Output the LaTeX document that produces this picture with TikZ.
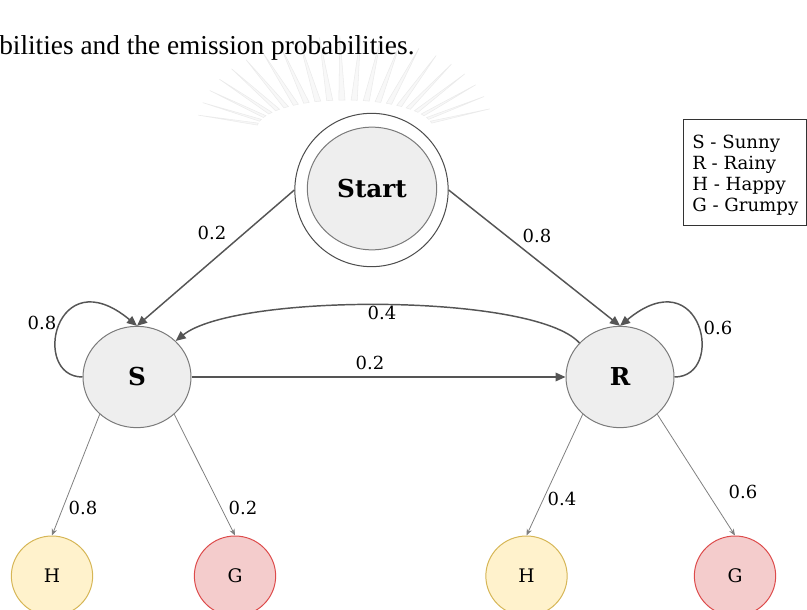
\documentclass[tikz,border=0pt]{standalone}
\usepackage{fontspec}
\setmainfont{DejaVu Serif}
\newfontfamily\bodyfont{Liberation Serif}
\usetikzlibrary{arrows.meta,shapes.geometric}

\definecolor{nodegray}{HTML}{EEEEEE}
\definecolor{nodeline}{HTML}{7A7A7A}
\definecolor{edgecol}{HTML}{555555}
\definecolor{emitcol}{HTML}{808080}
\definecolor{hfill}{HTML}{FFF2CC}
\definecolor{hline}{HTML}{D6B656}
\definecolor{gfill}{HTML}{F4CCCC}
\definecolor{gline}{HTML}{DD4B4B}
\definecolor{sealray}{HTML}{F8F8F8}
\definecolor{sealedge}{HTML}{EBEBEB}

\begin{document}
\begin{tikzpicture}[x=0.75pt,y=-0.75pt,
  state/.style={ellipse, draw=nodeline, fill=nodegray, line width=0.75pt,
    minimum width=81pt, minimum height=76pt, inner sep=0pt,
    font=\fontsize{18.5}{20}\selectfont\bfseries},
  obs/.style={ellipse, line width=0.75pt, minimum width=61pt, minimum height=60pt,
    inner sep=0pt, font=\fontsize{14}{16}\selectfont},
  obsH/.style={obs, draw=hline, fill=hfill},
  obsG/.style={obs, draw=gline, fill=gfill},
  trans/.style={draw=edgecol, line width=1.1pt, -{Triangle[length=7.5pt,width=6.5pt]}},
  emit/.style={draw=emitcol, line width=0.6pt, -{Stealth[length=5pt,width=4pt]}},
  prob/.style={font=\fontsize{13.5}{15}\selectfont, inner sep=0pt},
  legendline/.style={font=\fontsize{13.6}{15}\selectfont, inner sep=0pt, anchor=base west}
]
\useasboundingbox (0,0) rectangle (807,610);

% faint seal in the page background
\foreach \a in {12,20,...,172} {
  \fill[sealray, draw=sealedge, line width=0.4pt]
    ({345+88*cos(\a-2)},{128-28*sin(\a-2)}) --
    ({345+148*cos(\a)},{128-92*sin(\a)}) --
    ({345+88*cos(\a+2)},{128-28*sin(\a+2)}) -- cycle;
}

% running text of the page
\node[anchor=base west, inner sep=0pt, font=\bodyfont\fontsize{20.5}{24}\selectfont]
  (caption) at (-1,55) {bilities and the emission probabilities.};

% start state
\node[circle, draw=black!70, fill=white, line width=0.75pt, minimum size=115pt,
  inner sep=0pt] (startring) at (371.5,190) {};
\node[state, minimum width=97pt, minimum height=92pt] (start) at (372,188.5) {Start};

% hidden states
\node[state] (S) at (137,377) {S};
\node[state] (R) at (620,377) {R};

% observations
\node[obsH] (H1) at (52,576) {H};
\node[obsG] (G1) at (235,576) {G};
\node[obsH] (H2) at (526.5,576) {H};
\node[obsG] (G2) at (735,576) {G};

% initial probabilities
\draw[trans] (startring.west) -- (S.north);
\draw[trans] (startring.east) -- (R.north);
\node[prob] (pS) at (212,233) {0.2};
\node[prob] (pR) at (537,236) {0.8};

% transitions
\draw[trans] (S.east) -- (R.west);
\node[prob] (pSR) at (370,363) {0.2};
\draw[trans] (R.140) .. controls +(-45,-50) and +(60,-48) .. (S.43);
\node[prob] (pRS) at (382,313) {0.4};
\draw[trans] (S.west) .. controls +(-52,0) and +(-82,-68) .. (S.north);
\node[prob] (pSS) at (42,323) {0.8};
\draw[trans] (R.east) .. controls +(52,0) and +(82,-68) .. (R.north);
\node[prob] (pRR) at (718,328) {0.6};

% emissions
\draw[emit] (S.225) -- (H1.north);
\draw[emit] (S.315) -- (G1.north);
\draw[emit] (R.225) -- (H2.north);
\draw[emit] (R.315) -- (G2.north);
\node[prob] (eSH) at (83,508) {0.8};
\node[prob] (eSG) at (243,508) {0.2};
\node[prob] (eRH) at (562,499) {0.4};
\node[prob] (eRG) at (743,492) {0.6};

% legend
\draw[black!80, line width=0.75pt] (683,120) rectangle (806.5,225);
\node[legendline] (l1) at (692,148) {S - Sunny};
\node[legendline] (l2) at (692,169) {R - Rainy};
\node[legendline] (l3) at (692,190) {H - Happy};
\node[legendline] (l4) at (692,211) {G - Grumpy};
\end{tikzpicture}
\end{document}
